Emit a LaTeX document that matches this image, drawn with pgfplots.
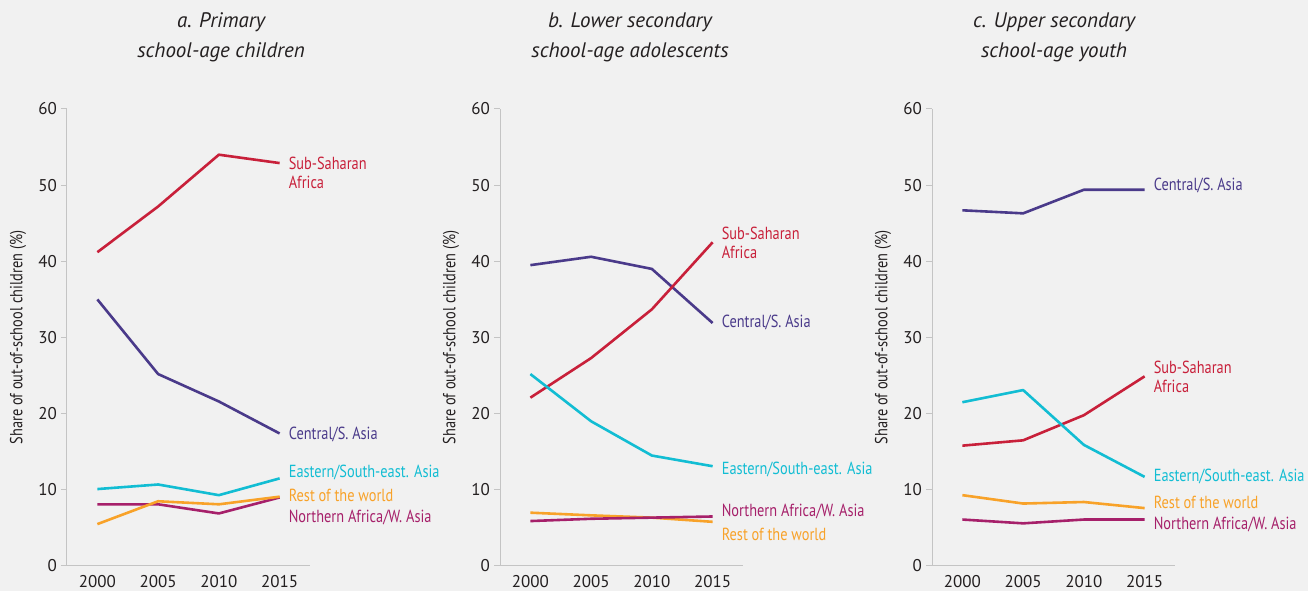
\documentclass[border=0pt]{standalone}
\usepackage{fontspec}
\setmainfont{PT Sans}[FakeStretch=0.82]
\newfontfamily\widefont{PT Sans}
\usepackage{pgfplots}
\pgfplotsset{compat=1.18}

\definecolor{bg}{HTML}{F1F1F1}
\definecolor{axisgray}{HTML}{C4C4C4}
\definecolor{txt}{HTML}{231F20}
\definecolor{ssa}{HTML}{C8203A}
\definecolor{csa}{HTML}{4A3A8A}
\definecolor{esa}{HTML}{12BDD3}
\definecolor{row}{HTML}{F8A229}
\definecolor{naw}{HTML}{A6206A}

\tikzset{
  lab/.style={anchor=west, inner sep=0pt, xshift=9pt, align=left,
    font=\fontsize{17.5}{19}\selectfont},
}
\pgfplotsset{
  panel/.style={
    scale only axis, width=243pt, height=457pt,
    xmin=1997.5, xmax=2017.5, ymin=0, ymax=60,
    clip=false,
    axis x line=bottom, axis y line=left,
    axis line style={-, draw=axisgray, line width=1pt},
    xtick={2000,2005,2010,2015}, ytick={0,10,...,60},
    xtick style={draw=none},
    ytick style={draw=axisgray, line width=1pt},
    tick align=outside, major tick length=6pt,
    /pgf/number format/assume math mode=true,
    /pgf/number format/1000 sep={},
    tick label style={font=\widefont\fontsize{17}{19}\selectfont, text=txt},
    xticklabel style={inner sep=0pt, yshift=-3pt},
    yticklabel style={inner sep=0pt, xshift=-4pt},
    ylabel={Share of out-of-school children (\%)},
    ylabel style={at={(axis description cs:-0.2016,0.5)}, anchor=center,
      font=\fontsize{17.5}{19}\selectfont, text=txt},
    every axis plot/.append style={line width=2.6pt, line join=round},
  },
}

\begin{document}
\begin{tikzpicture}
\fill[bg] (0,0) rectangle (1308pt,591pt);
\useasboundingbox (0,0) rectangle (1308pt,591pt);

% a. Primary
\begin{axis}[panel, at={(67pt,25pt)}, anchor=south west]
\addplot[color=ssa] coordinates {(2000,41.2)(2005,47.2)(2010,54.0)(2015,52.9)};
\addplot[color=csa] coordinates {(2000,35.0)(2005,25.2)(2010,21.6)(2015,17.4)};
\addplot[color=esa] coordinates {(2000,10.1)(2005,10.7)(2010,9.3)(2015,11.5)};
\addplot[color=naw] coordinates {(2000,8.1)(2005,8.1)(2010,6.9)(2015,9.0)};
\addplot[color=row] coordinates {(2000,5.5)(2005,8.5)(2010,8.1)(2015,9.1)};
\node[lab, text=ssa, anchor=north west, yshift=6pt] at (axis cs:2015,52.9) {Sub-Saharan\\Africa};
\node[lab, text=csa] at (axis cs:2015,17.3) {Central/S. Asia};
\node[lab, text=esa] at (axis cs:2015,12.3) {Eastern/South-east. Asia};
\node[lab, text=row] at (axis cs:2015,9.3) {Rest of the world};
\node[lab, text=naw] at (axis cs:2015,6.4) {Northern Africa/W. Asia};
\end{axis}

% b. Lower secondary
\begin{axis}[panel, at={(500pt,25pt)}, anchor=south west]
\addplot[color=csa] coordinates {(2000,39.5)(2005,40.6)(2010,39.0)(2015,31.9)};
\addplot[color=ssa] coordinates {(2000,22.1)(2005,27.3)(2010,33.7)(2015,42.5)};
\addplot[color=esa] coordinates {(2000,25.2)(2005,19.0)(2010,14.5)(2015,13.1)};
\addplot[color=row] coordinates {(2000,7.0)(2005,6.65)(2010,6.35)(2015,5.8)};
\addplot[color=naw] coordinates {(2000,5.9)(2005,6.2)(2010,6.35)(2015,6.5)};
\node[lab, text=ssa, anchor=north west, yshift=6pt] at (axis cs:2015,43.7) {Sub-Saharan\\Africa};
\node[lab, text=csa] at (axis cs:2015,32.0) {Central/S. Asia};
\node[lab, text=esa] at (axis cs:2015,12.7) {Eastern/South-east. Asia};
\node[lab, text=naw] at (axis cs:2015,7.2) {Northern Africa/W. Asia};
\node[lab, text=row] at (axis cs:2015,4.2) {Rest of the world};
\end{axis}

% c. Upper secondary
\begin{axis}[panel, at={(932pt,25pt)}, anchor=south west]
\addplot[color=csa] coordinates {(2000,46.7)(2005,46.3)(2010,49.4)(2015,49.4)};
\addplot[color=ssa] coordinates {(2000,15.8)(2005,16.5)(2010,19.8)(2015,24.9)};
\addplot[color=esa] coordinates {(2000,21.5)(2005,23.1)(2010,15.9)(2015,11.7)};
\addplot[color=row] coordinates {(2000,9.3)(2005,8.2)(2010,8.4)(2015,7.6)};
\addplot[color=naw] coordinates {(2000,6.1)(2005,5.6)(2010,6.1)(2015,6.1)};
\node[lab, text=csa] at (axis cs:2015,49.9) {Central/S. Asia};
\node[lab, text=ssa, anchor=north west, yshift=6pt] at (axis cs:2015,26.1) {Sub-Saharan\\Africa};
\node[lab, text=esa] at (axis cs:2015,11.8) {Eastern/South-east. Asia};
\node[lab, text=row] at (axis cs:2015,8.3) {Rest of the world};
\node[lab, text=naw] at (axis cs:2015,5.4) {Northern Africa/W. Asia};
\end{axis}

% panel titles
\begin{scope}[every node/.style={text=txt, font=\widefont\fontsize{21}{23}\selectfont\itshape, inner sep=0pt}]
\node at (221pt,569pt) {a. Primary};
\node at (221pt,539pt) {school-age children};
\node at (630pt,569pt) {b. Lower secondary};
\node at (630pt,539pt) {school-age adolescents};
\node at (1054pt,569pt) {c. Upper secondary};
\node at (1054pt,539pt) {school-age youth};
\end{scope}
\end{tikzpicture}
\end{document}
